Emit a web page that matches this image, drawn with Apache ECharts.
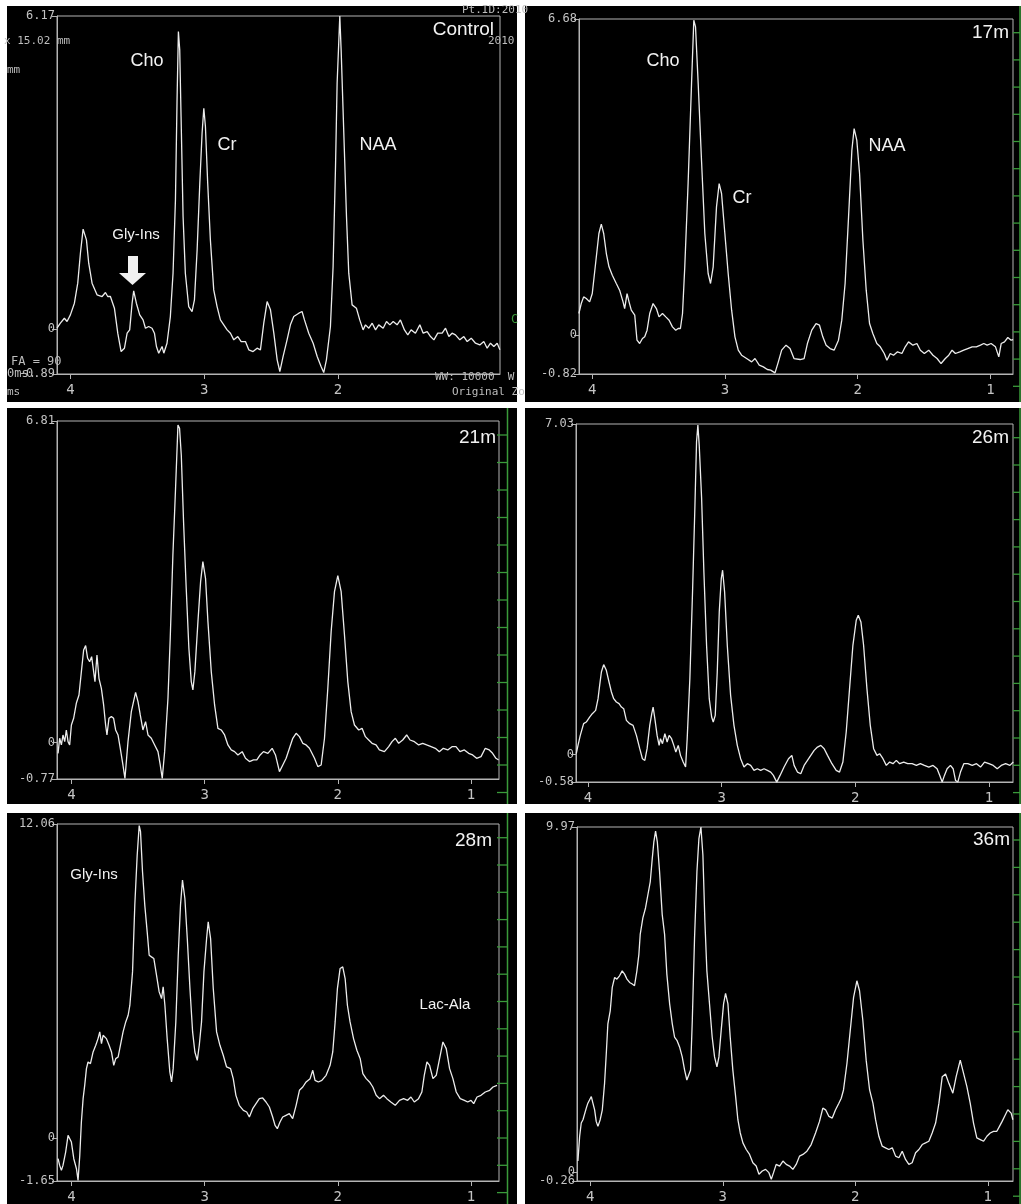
<!DOCTYPE html>
<html><head><meta charset="utf-8">
<script src="https://cdn.jsdelivr.net/npm/echarts@6/dist/echarts.min.js"></script>
<style>html,body{margin:0;padding:0;background:#fff}#c{width:1021px;height:1204px}</style>
</head><body><div id="c"></div>
<script>
// Spectra: [chemical shift ppm, intensity]
const control = [[4.100,0.013],[4.075,0.112],[4.045,0.210],[4.025,0.145],[4.000,0.276],[3.970,0.506],[3.945,0.901],[3.925,1.492],[3.905,1.966],[3.900,1.985],[3.880,1.755],[3.863,1.295],[3.838,0.901],[3.801,0.671],[3.763,0.638],[3.738,0.717],[3.721,0.638],[3.701,0.638],[3.671,0.408],[3.646,-0.085],[3.621,-0.447],[3.596,-0.381],[3.576,-0.085],[3.557,-0.020],[3.539,0.506],[3.527,0.749],[3.507,0.506],[3.482,0.276],[3.457,0.177],[3.439,0.013],[3.415,0.046],[3.390,0.013],[3.372,-0.085],[3.357,-0.348],[3.340,-0.480],[3.315,-0.348],[3.302,-0.480],[3.278,-0.283],[3.253,0.243],[3.233,1.098],[3.215,2.544],[3.203,4.516],[3.193,5.864],[3.183,5.502],[3.173,4.188],[3.158,2.215],[3.141,1.098],[3.116,0.440],[3.091,0.342],[3.073,0.572],[3.053,1.558],[3.033,2.873],[3.016,3.859],[3.003,4.352],[2.991,3.990],[2.974,2.873],[2.954,1.755],[2.929,0.769],[2.904,0.440],[2.879,0.177],[2.854,0.079],[2.829,-0.020],[2.804,-0.085],[2.779,-0.217],[2.749,-0.151],[2.724,-0.250],[2.692,-0.250],[2.667,-0.414],[2.635,-0.447],[2.605,-0.381],[2.580,-0.414],[2.555,0.112],[2.530,0.539],[2.505,0.375],[2.480,-0.085],[2.455,-0.611],[2.435,-0.841],[2.411,-0.546],[2.381,-0.217],[2.356,0.079],[2.331,0.243],[2.293,0.309],[2.269,0.342],[2.251,0.177],[2.219,-0.085],[2.186,-0.283],[2.156,-0.546],[2.127,-0.743],[2.107,-0.861],[2.087,-0.611],[2.057,0.046],[2.037,1.229],[2.019,3.202],[2.007,4.845],[1.995,5.634],[1.987,6.17],[1.977,5.502],[1.957,3.859],[1.937,2.215],[1.920,1.098],[1.895,0.473],[1.863,0.408],[1.838,0.177],[1.813,-0.020],[1.795,0.079],[1.770,0.013],[1.745,0.112],[1.720,-0.020],[1.696,0.079],[1.663,0.013],[1.638,0.145],[1.613,0.079],[1.588,0.145],[1.559,0.079],[1.534,0.177],[1.504,-0.020],[1.479,-0.118],[1.454,-0.020],[1.422,-0.085],[1.389,0.079],[1.364,-0.085],[1.334,-0.053],[1.309,-0.151],[1.284,-0.217],[1.255,-0.085],[1.222,-0.085],[1.197,0.013],[1.172,-0.151],[1.148,-0.085],[1.123,-0.118],[1.090,-0.217],[1.060,-0.151],[1.035,-0.250],[1.005,-0.184],[0.973,-0.283],[0.941,-0.316],[0.911,-0.250],[0.886,-0.381],[0.861,-0.283],[0.836,-0.348],[0.811,-0.283],[0.791,-0.414]];
const m17 = [[4.101,0.458],[4.083,0.669],[4.065,0.810],[4.045,0.775],[4.020,0.704],[4.000,0.880],[3.975,1.514],[3.950,2.148],[3.932,2.345],[3.914,2.148],[3.894,1.725],[3.874,1.444],[3.849,1.268],[3.819,1.092],[3.794,0.951],[3.768,0.704],[3.756,0.563],[3.738,0.880],[3.723,0.704],[3.706,0.528],[3.680,0.423],[3.663,-0.106],[3.643,-0.176],[3.622,-0.070],[3.605,-0.035],[3.587,0.106],[3.567,0.458],[3.542,0.669],[3.517,0.563],[3.497,0.387],[3.471,0.458],[3.446,0.387],[3.421,0.317],[3.396,0.176],[3.371,0.106],[3.353,0.141],[3.336,0.141],[3.320,0.458],[3.303,1.444],[3.278,3.204],[3.252,5.317],[3.235,6.655],[3.222,6.514],[3.202,5.317],[3.177,3.697],[3.152,2.148],[3.127,1.303],[3.109,1.092],[3.089,1.444],[3.064,2.711],[3.044,3.204],[3.026,2.993],[3.001,2.148],[2.976,1.303],[2.950,0.528],[2.925,-0.035],[2.900,-0.317],[2.875,-0.423],[2.837,-0.493],[2.799,-0.563],[2.774,-0.493],[2.742,-0.634],[2.711,-0.669],[2.681,-0.725],[2.656,-0.739],[2.623,-0.796],[2.598,-0.563],[2.573,-0.317],[2.540,-0.211],[2.510,-0.282],[2.480,-0.493],[2.434,-0.514],[2.404,-0.493],[2.379,-0.176],[2.346,0.106],[2.314,0.246],[2.288,0.211],[2.263,-0.035],[2.238,-0.211],[2.208,-0.282],[2.178,-0.317],[2.145,-0.106],[2.120,0.317],[2.095,1.092],[2.069,2.500],[2.044,3.908],[2.027,4.366],[2.007,4.120],[1.986,3.415],[1.961,2.007],[1.936,0.951],[1.911,0.246],[1.886,0.035],[1.856,-0.176],[1.830,-0.246],[1.800,-0.387],[1.780,-0.528],[1.755,-0.387],[1.730,-0.423],[1.700,-0.352],[1.667,-0.387],[1.642,-0.246],[1.617,-0.141],[1.584,-0.211],[1.554,-0.176],[1.528,-0.317],[1.498,-0.387],[1.465,-0.317],[1.433,-0.423],[1.402,-0.493],[1.372,-0.599],[1.340,-0.493],[1.314,-0.423],[1.289,-0.317],[1.264,-0.387],[1.231,-0.352],[1.201,-0.317],[1.171,-0.282],[1.138,-0.246],[1.106,-0.246],[1.075,-0.211],[1.050,-0.176],[1.025,-0.211],[0.995,-0.176],[0.962,-0.246],[0.937,-0.458],[0.919,-0.176],[0.894,-0.141],[0.869,-0.049],[0.844,-0.106],[0.829,-0.092]];
const m21 = [[4.100,-0.226],[4.088,0.092],[4.075,-0.049],[4.063,0.162],[4.050,0.021],[4.038,0.268],[4.025,0.021],[4.013,-0.049],[4.000,0.374],[3.983,0.515],[3.963,0.833],[3.943,1.009],[3.925,1.503],[3.908,1.962],[3.893,2.054],[3.878,1.786],[3.863,1.715],[3.848,1.821],[3.833,1.503],[3.823,1.292],[3.808,1.856],[3.793,1.362],[3.775,1.150],[3.758,0.798],[3.743,0.374],[3.733,0.162],[3.718,0.515],[3.700,0.551],[3.683,0.515],[3.668,0.268],[3.650,0.162],[3.633,-0.120],[3.613,-0.473],[3.598,-0.760],[3.575,0.021],[3.550,0.656],[3.518,1.066],[3.500,0.868],[3.483,0.586],[3.463,0.268],[3.443,0.445],[3.425,0.162],[3.400,0.092],[3.375,-0.049],[3.350,-0.191],[3.333,-0.473],[3.318,-0.760],[3.300,-0.191],[3.275,0.939],[3.258,2.209],[3.238,3.974],[3.218,5.385],[3.200,6.726],[3.188,6.656],[3.175,6.091],[3.158,4.679],[3.138,3.268],[3.118,1.997],[3.100,1.292],[3.088,1.115],[3.073,1.503],[3.050,2.562],[3.030,3.409],[3.013,3.833],[2.993,3.480],[2.975,2.562],[2.950,1.503],[2.925,0.798],[2.900,0.303],[2.875,0.268],[2.850,0.162],[2.825,-0.049],[2.800,-0.155],[2.775,-0.191],[2.750,-0.261],[2.718,-0.191],[2.693,-0.332],[2.663,-0.402],[2.633,-0.367],[2.608,-0.367],[2.583,-0.261],[2.558,-0.191],[2.525,-0.226],[2.493,-0.120],[2.468,-0.261],[2.438,-0.614],[2.413,-0.473],[2.388,-0.332],[2.363,-0.120],[2.338,0.092],[2.313,0.198],[2.288,0.127],[2.263,-0.014],[2.238,-0.049],[2.213,-0.120],[2.175,-0.332],[2.150,-0.508],[2.125,-0.473],[2.100,0.092],[2.075,1.150],[2.050,2.350],[2.025,3.197],[2.000,3.536],[1.975,3.197],[1.950,2.280],[1.925,1.292],[1.900,0.656],[1.875,0.374],[1.843,0.268],[1.818,0.303],[1.793,0.127],[1.768,0.056],[1.743,-0.014],[1.713,-0.049],[1.688,-0.155],[1.650,-0.191],[1.618,-0.085],[1.593,0.021],[1.568,0.092],[1.543,-0.014],[1.513,0.056],[1.483,0.162],[1.458,0.056],[1.425,0.021],[1.393,-0.049],[1.363,-0.014],[1.333,-0.049],[1.300,-0.085],[1.268,-0.120],[1.238,-0.191],[1.208,-0.120],[1.175,-0.155],[1.143,-0.085],[1.113,-0.085],[1.083,-0.191],[1.050,-0.155],[1.018,-0.226],[0.988,-0.261],[0.958,-0.332],[0.925,-0.296],[0.893,-0.120],[0.863,-0.155],[0.838,-0.226],[0.813,-0.332],[0.793,-0.367]];
const m26 = [[4.088,0.021],[4.075,0.199],[4.058,0.411],[4.033,0.660],[4.013,0.695],[3.988,0.801],[3.968,0.872],[3.943,0.943],[3.925,1.191],[3.913,1.475],[3.900,1.759],[3.883,1.915],[3.863,1.794],[3.843,1.546],[3.825,1.333],[3.808,1.191],[3.788,1.120],[3.768,1.085],[3.750,1.014],[3.733,0.979],[3.713,0.730],[3.688,0.660],[3.663,0.624],[3.638,0.411],[3.613,0.128],[3.593,-0.085],[3.575,-0.121],[3.558,0.128],[3.538,0.624],[3.523,0.872],[3.513,1.014],[3.500,0.766],[3.483,0.411],[3.468,0.199],[3.458,0.340],[3.443,0.234],[3.425,0.447],[3.408,0.270],[3.393,0.411],[3.375,0.340],[3.358,0.199],[3.343,0.057],[3.325,0.199],[3.308,-0.014],[3.288,-0.156],[3.270,-0.262],[3.258,0.340],[3.238,1.617],[3.218,3.461],[3.200,5.305],[3.188,6.652],[3.178,7.007],[3.168,6.581],[3.150,5.447],[3.133,3.886],[3.113,2.326],[3.093,1.191],[3.075,0.801],[3.063,0.695],[3.048,0.837],[3.033,1.759],[3.018,3.035],[3.003,3.745],[2.993,3.922],[2.978,3.461],[2.958,2.326],[2.933,1.262],[2.908,0.624],[2.883,0.199],[2.858,-0.085],[2.833,-0.262],[2.808,-0.191],[2.783,-0.227],[2.758,-0.333],[2.733,-0.298],[2.708,-0.333],[2.683,-0.298],[2.658,-0.333],[2.633,-0.369],[2.613,-0.440],[2.588,-0.582],[2.563,-0.440],[2.533,-0.262],[2.500,-0.085],[2.475,-0.014],[2.458,-0.227],[2.433,-0.369],[2.408,-0.404],[2.383,-0.227],[2.358,-0.121],[2.333,-0.014],[2.308,0.092],[2.283,0.163],[2.258,0.199],[2.233,0.128],[2.208,-0.014],[2.175,-0.191],[2.143,-0.333],[2.118,-0.369],[2.093,-0.156],[2.068,0.482],[2.043,1.404],[2.018,2.326],[1.993,2.858],[1.978,2.964],[1.958,2.823],[1.938,2.326],[1.913,1.404],[1.888,0.624],[1.863,0.128],[1.838,-0.014],[1.818,0.021],[1.793,-0.085],[1.768,-0.227],[1.743,-0.156],[1.718,-0.191],[1.693,-0.121],[1.668,-0.191],[1.638,-0.156],[1.608,-0.191],[1.575,-0.191],[1.543,-0.227],[1.513,-0.191],[1.483,-0.227],[1.450,-0.262],[1.418,-0.227],[1.388,-0.298],[1.368,-0.440],[1.350,-0.582],[1.333,-0.440],[1.313,-0.298],[1.288,-0.227],[1.268,-0.298],[1.250,-0.546],[1.233,-0.582],[1.213,-0.369],[1.188,-0.191],[1.158,-0.191],[1.125,-0.227],[1.093,-0.191],[1.063,-0.262],[1.033,-0.156],[1.000,-0.191],[0.968,-0.227],[0.938,-0.298],[0.908,-0.227],[0.875,-0.191],[0.843,-0.227],[0.818,-0.156]];
const m28 = [[4.100,-0.794],[4.088,-1.051],[4.075,-1.243],[4.063,-1.051],[4.043,-0.538],[4.025,0.103],[4.013,0.167],[4.000,-0.154],[3.982,-0.794],[3.962,-1.179],[3.950,-1.627],[3.937,-0.666],[3.925,0.615],[3.912,1.512],[3.900,2.024],[3.887,2.665],[3.875,2.921],[3.857,2.857],[3.837,3.306],[3.817,3.562],[3.800,3.818],[3.787,4.075],[3.774,3.626],[3.762,3.946],[3.749,3.946],[3.737,3.818],[3.717,3.562],[3.699,3.306],[3.682,2.793],[3.667,3.049],[3.649,3.114],[3.632,3.562],[3.612,4.075],[3.592,4.459],[3.574,4.715],[3.561,5.100],[3.541,6.381],[3.524,8.943],[3.506,10.865],[3.491,12.00],[3.481,11.762],[3.466,10.225],[3.449,8.943],[3.431,7.918],[3.416,7.022],[3.399,6.957],[3.381,6.893],[3.361,6.253],[3.341,5.612],[3.323,5.356],[3.311,5.804],[3.298,5.100],[3.281,3.818],[3.261,2.537],[3.248,2.153],[3.236,2.665],[3.216,4.459],[3.198,7.022],[3.181,8.943],[3.166,9.904],[3.148,9.200],[3.130,7.662],[3.110,5.740],[3.090,4.075],[3.073,3.306],[3.055,2.985],[3.040,3.562],[3.023,4.459],[3.005,6.381],[2.985,7.662],[2.973,8.303],[2.955,7.662],[2.935,5.740],[2.910,4.075],[2.885,3.562],[2.860,3.178],[2.835,2.729],[2.805,2.665],[2.785,2.281],[2.765,1.640],[2.740,1.256],[2.709,1.063],[2.684,0.999],[2.664,0.807],[2.639,1.128],[2.614,1.320],[2.589,1.512],[2.564,1.538],[2.539,1.384],[2.514,1.192],[2.489,0.807],[2.471,0.487],[2.454,0.359],[2.434,0.615],[2.414,0.807],[2.389,0.871],[2.364,0.935],[2.339,0.743],[2.313,1.256],[2.288,1.832],[2.263,1.960],[2.238,2.153],[2.208,2.281],[2.188,2.601],[2.171,2.217],[2.146,2.153],[2.120,2.217],[2.088,2.409],[2.058,2.793],[2.038,3.306],[2.020,4.459],[2.003,5.740],[1.983,6.509],[1.963,6.573],[1.945,6.125],[1.928,5.100],[1.908,4.459],[1.882,3.818],[1.857,3.370],[1.832,3.049],[1.812,2.473],[1.787,2.281],[1.762,2.153],[1.737,1.960],[1.712,1.640],[1.687,1.512],[1.657,1.640],[1.632,1.512],[1.602,1.384],[1.569,1.256],[1.537,1.448],[1.506,1.512],[1.476,1.448],[1.451,1.576],[1.426,1.384],[1.394,1.512],[1.369,1.768],[1.351,2.409],[1.331,2.921],[1.311,2.793],[1.286,2.281],[1.261,2.409],[1.236,3.049],[1.211,3.690],[1.186,3.434],[1.161,2.665],[1.136,2.281],[1.111,1.768],[1.081,1.512],[1.050,1.448],[1.025,1.384],[1.000,1.448],[0.980,1.320],[0.955,1.576],[0.925,1.640],[0.893,1.768],[0.860,1.832],[0.835,1.960],[0.805,2.024]];
const m36 = [[4.093,0.316],[4.080,1.033],[4.068,1.415],[4.055,1.511],[4.043,1.558],[4.030,1.845],[4.018,1.989],[4.005,1.941],[3.992,2.180],[3.980,1.989],[3.967,1.797],[3.955,1.463],[3.942,1.319],[3.925,1.511],[3.909,1.797],[3.892,2.562],[3.879,3.423],[3.867,4.283],[3.849,4.666],[3.834,5.335],[3.816,5.622],[3.799,5.574],[3.779,5.670],[3.759,5.813],[3.741,5.718],[3.723,5.574],[3.703,5.478],[3.683,5.431],[3.666,5.383],[3.648,5.813],[3.633,6.291],[3.623,6.865],[3.603,7.343],[3.583,7.630],[3.565,8.012],[3.547,8.394],[3.532,9.064],[3.520,9.542],[3.507,9.848],[3.494,9.542],[3.477,8.681],[3.457,7.438],[3.439,6.865],[3.422,5.718],[3.401,4.857],[3.381,4.283],[3.364,3.901],[3.346,3.805],[3.326,3.614],[3.306,3.327],[3.288,2.945],[3.271,2.658],[3.256,2.610],[3.243,2.945],[3.230,4.379],[3.213,6.769],[3.195,8.681],[3.180,9.637],[3.165,9.97],[3.150,9.159],[3.135,7.247],[3.120,5.813],[3.100,4.857],[3.080,3.901],[3.062,3.327],[3.044,3.040],[3.029,3.327],[3.012,4.092],[2.994,4.857],[2.979,5.163],[2.961,4.857],[2.944,3.901],[2.924,2.945],[2.903,2.180],[2.886,1.511],[2.868,1.128],[2.848,0.841],[2.823,0.650],[2.798,0.507],[2.773,0.268],[2.748,0.172],[2.727,-0.067],[2.702,0.029],[2.677,0.076],[2.652,-0.019],[2.634,-0.210],[2.617,-0.019],[2.597,0.220],[2.571,0.172],[2.546,0.316],[2.521,0.220],[2.496,0.172],[2.471,0.076],[2.446,0.220],[2.421,0.459],[2.395,0.507],[2.365,0.602],[2.333,0.794],[2.300,1.128],[2.270,1.463],[2.245,1.845],[2.224,1.797],[2.199,1.606],[2.174,1.558],[2.149,1.797],[2.124,1.989],[2.106,2.132],[2.089,2.371],[2.063,3.136],[2.038,4.092],[2.013,5.048],[1.988,5.526],[1.968,5.239],[1.943,4.379],[1.918,3.232],[1.892,2.371],[1.867,1.989],[1.847,1.511],[1.822,1.033],[1.797,0.746],[1.772,0.698],[1.747,0.650],[1.721,0.698],[1.696,0.459],[1.671,0.411],[1.646,0.602],[1.621,0.363],[1.596,0.220],[1.571,0.268],[1.545,0.555],[1.520,0.650],[1.495,0.794],[1.470,0.841],[1.445,0.889],[1.420,1.128],[1.394,1.415],[1.369,1.989],[1.344,2.754],[1.319,2.830],[1.294,2.562],[1.264,2.276],[1.239,2.754],[1.208,3.232],[1.183,2.849],[1.158,2.467],[1.133,1.989],[1.108,1.415],[1.083,0.985],[1.057,0.937],[1.032,0.889],[1.007,1.033],[0.982,1.128],[0.957,1.176],[0.932,1.176],[0.912,1.319],[0.892,1.463],[0.874,1.606],[0.849,1.797],[0.824,1.702],[0.811,1.511]];

const panelNames = ['Control','17m','21m','26m','28m','36m'];
const seriesData = [control, m17, m21, m26, m28, m36];
const yRanges = [[-0.89,6.17],[-0.82,6.68],[-0.77,6.81],[-0.58,7.03],[-1.65,12.06],[-0.26,9.97]];
const xRanges = [[0.79,4.10],[0.83,4.10],[0.79,4.108],[0.82,4.09],[0.79,4.108],[0.81,4.10]];
const xTickValues = [[4,3,2],[4,3,2,1],[4,3,2,1],[4,3,2,1],[4,3,2,1],[4,3,2,1]];

// layout (pixels)
const grids = [
  {left:57, top:16, width:443, height:358},
  {left:579, top:19, width:434, height:355},
  {left:57, top:421, width:442, height:358},
  {left:576, top:424, width:437, height:358},
  {left:57, top:824, width:442, height:357},
  {left:577, top:827, width:436, height:356}
];
const panelRects = [[7,6,510,396],[525,6,496,396],[7,408,510,396],[525,408,496,396],[7,813,510,391],[525,813,496,391]];

const AX = '#b4b4b4', LBL = '#c4c4c4', MONO = 'DejaVu Sans Mono', SANS = 'Liberation Sans, Arial, sans-serif';
const fmtY = v => (Math.abs(v) < 1e-9 ? '0' : v.toFixed(2));

function makeY(gi, values, showLine) {
  return {
    gridIndex: gi, type: 'value', position: 'left', min: yRanges[gi][0], max: yRanges[gi][1],
    axisLine: {show: showLine, onZero: false, lineStyle: {color: AX, width: 1}},
    axisTick: {show: true, customValues: values, length: 5, lineStyle: {color: AX}},
    axisLabel: {customValues: values, showMinLabel: true, showMaxLabel: true,
      color: LBL, fontFamily: MONO, fontSize: 12, margin: 2, formatter: fmtY},
    splitLine: {show: false}
  };
}

const xAxis = [], yAxis = [], series = [];
for (let i = 0; i < 6; i++) {
  xAxis.push({
    gridIndex: i, type: 'value', inverse: true, min: xRanges[i][0], max: xRanges[i][1],
    axisLine: {show: true, onZero: false, lineStyle: {color: AX, width: 1}},
    axisTick: {show: true, customValues: xTickValues[i], length: 5, lineStyle: {color: AX}},
    axisLabel: {customValues: xTickValues[i], color: LBL, fontFamily: MONO, fontSize: 14, margin: 9, formatter: v => String(v)},
    splitLine: {show: false}
  });
  // last panel: its 0 and minimum labels sit on top of each other, so the 0 label gets its own axis
  const yv = i === 5 ? [yRanges[i][0], yRanges[i][1]] : [yRanges[i][0], 0, yRanges[i][1]];
  yAxis.push(makeY(i, yv, true));
  series.push({
    type: 'line', xAxisIndex: i, yAxisIndex: i, data: seriesData[i],
    showSymbol: false, symbol: 'none', silent: true, clip: true,
    lineStyle: {color: '#ececec', width: 1.3}
  });
}
yAxis.push(makeY(5, [0], false));

const elements = [];
panelRects.forEach(r => elements.push({type: 'rect', z: -10, shape: {x: r[0], y: r[1], width: r[2], height: r[3]}, style: {fill: '#000'}}));

function txt(t, x, y, size, align, color, family) {
  elements.push({type: 'text', z: 100, style: {text: t, x: x, y: y, fill: color || '#f2f2f2',
    font: size + 'px ' + (family || SANS), textAlign: align || 'center', textVerticalAlign: 'middle'}});
}
// panel labels (time points)
txt(panelNames[0], 494, 30, 19, 'right');
txt(panelNames[1], 1009, 33, 19, 'right');
txt(panelNames[2], 496, 438, 19, 'right');
txt(panelNames[3], 1009, 438, 19, 'right');
txt(panelNames[4], 492, 841, 19, 'right');
txt(panelNames[5], 1010, 840, 19, 'right');
// metabolite annotations
txt('Cho', 147, 61, 18); txt('Cr', 227, 145, 18); txt('NAA', 378, 145, 18);
txt('Gly-Ins', 136, 235, 15);
txt('Cho', 663, 61, 18); txt('Cr', 742, 198, 18); txt('NAA', 887, 146, 18);
txt('Gly-Ins', 94, 875, 15); txt('Lac-Ala', 445, 1005, 15);
// scanner overlay texts in control panel
const G = '#bdbdbd';
txt('Pt.ID:2010', 462, 10, 11, 'left', G, MONO);
txt('2010', 488, 41, 11, 'left', G, MONO);
txt('x 15.02 mm', 4, 41, 11, 'left', G, MONO);
txt('mm', 7, 70, 11, 'left', G, MONO);
txt('FA = 90', 11, 362, 12, 'left', G, MONO);
txt('0ms.', 7, 374, 12, 'left', G, MONO);
txt('ms', 7, 392, 11, 'left', G, MONO);
txt('WW: 10000  W', 435, 377, 11, 'left', G, MONO);
txt('Original Zo', 452, 392, 11, 'left', G, MONO);
txt('C', 511, 320, 12, 'left', '#3a9a3a', MONO);
// arrow
elements.push({type: 'rect', z: 100, shape: {x: 128, y: 256, width: 10, height: 18}, style: {fill: '#f0f0f0'}});
elements.push({type: 'polygon', z: 100, shape: {points: [[119, 273], [146, 273], [132.5, 285]]}, style: {fill: '#f0f0f0'}});
// green scanner rulers
const GR = '#3a9a3a';
const rulers = [
  {x: 1020, x0: 1013, y1: 6, y2: 402, t0: 32.7, dt: 27.2},
  {x: 507.5, x0: 497, y1: 408, y2: 804, t0: 435, dt: 27.5},
  {x: 1020, x0: 1013, y1: 408, y2: 804, t0: 437.7, dt: 27.3},
  {x: 507.5, x0: 497, y1: 813, y2: 1204, t0: 837.7, dt: 27.3},
  {x: 1020, x0: 1013, y1: 813, y2: 1204, t0: 840, dt: 27.4}
];
rulers.forEach(r => {
  elements.push({type: 'line', z: 50, shape: {x1: r.x, y1: r.y1, x2: r.x, y2: r.y2}, style: {stroke: GR, lineWidth: 1.5}});
  for (let k = 0; k < 14; k++) {
    const y = r.t0 + k * r.dt;
    elements.push({type: 'line', z: 50, shape: {x1: r.x0, y1: y, x2: r.x, y2: y}, style: {stroke: GR, lineWidth: 1.3}});
  }
});

const chart = echarts.init(document.getElementById('c'), null, {renderer: 'canvas'});
chart.setOption({
  backgroundColor: '#ffffff',
  animation: false,
  grid: grids.map(g => Object.assign({show: true, borderColor: AX, borderWidth: 1, backgroundColor: 'transparent', containLabel: false}, g)),
  xAxis: xAxis, yAxis: yAxis, series: series,
  graphic: {elements: elements}
});
</script></body></html>
